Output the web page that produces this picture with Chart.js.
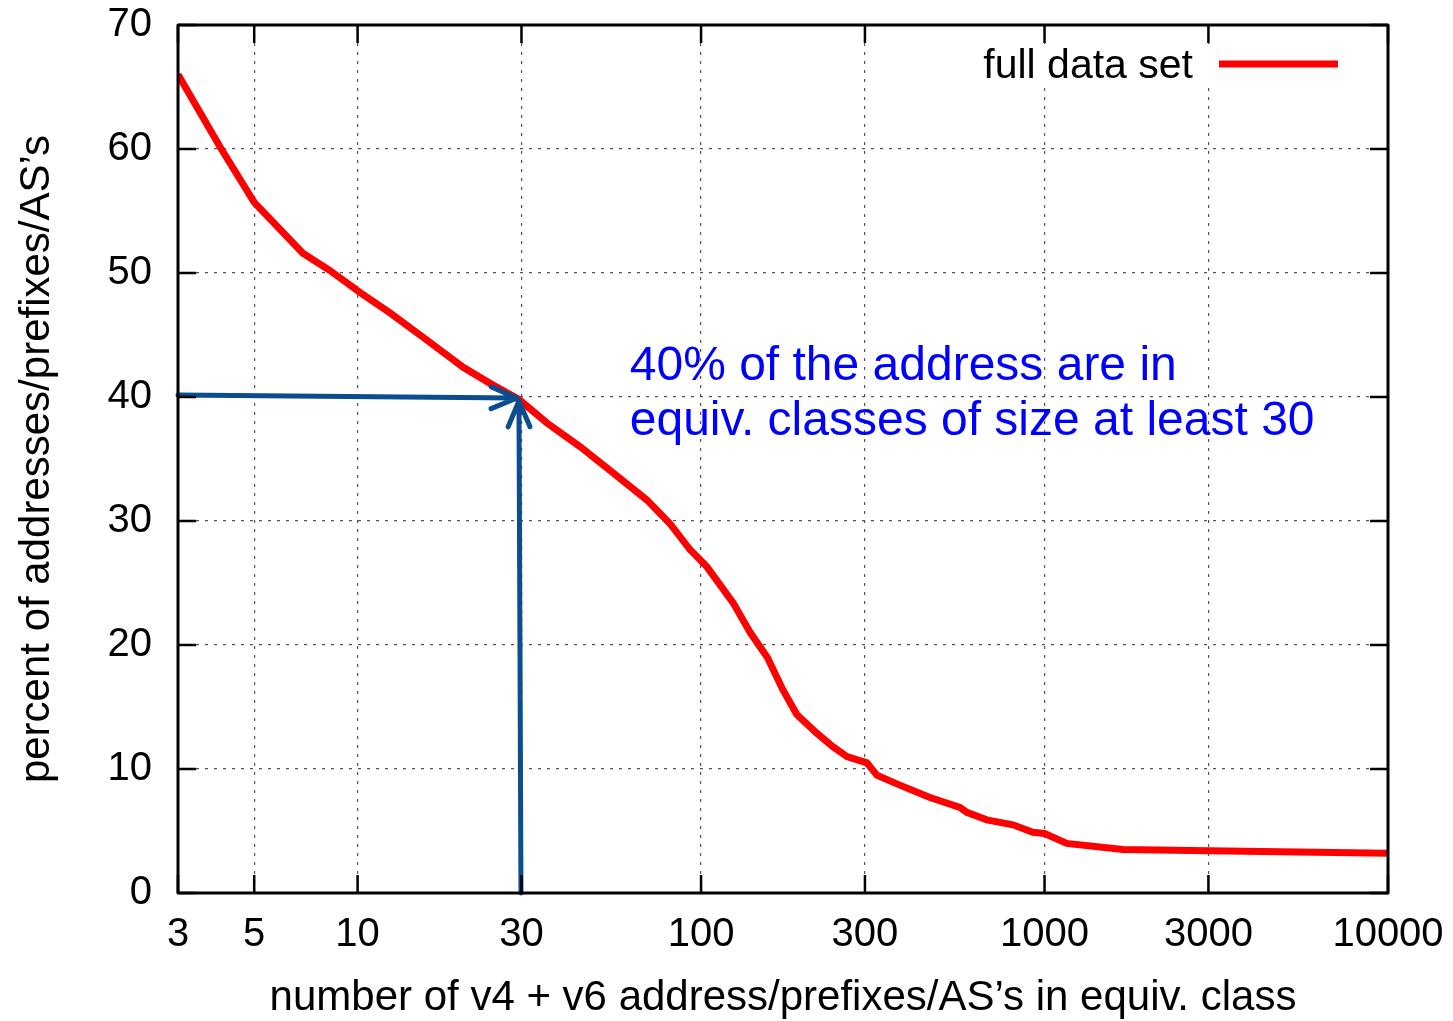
<!DOCTYPE html>
<html>
<head>
<meta charset="utf-8">
<script src="https://cdn.jsdelivr.net/npm/chart.js@4.4.0/dist/chart.umd.min.js"></script>
<style>
    html, body { margin: 0; padding: 0; background: #fff; }
</style>
</head>
<body>
<canvas id="myChart" width="1453" height="1021"></canvas>
<script>
// values
const classSize = [3, 3.97, 5, 6.93, 8.31, 10.2, 12.4, 15.9, 20.3, 24.3, 29.5, 35.6, 44.4, 55.4, 69.5,
    81.1, 92.8, 104, 124, 139, 156, 173, 190, 217, 242, 266, 304, 325, 379, 464, 567, 594, 679, 809, 925,
    1000, 1161, 1690, 3000, 10000];
const percent = [66.0, 60.2, 55.7, 51.6, 50.2, 48.4, 46.8, 44.6, 42.4, 41.1, 39.8, 37.9, 36.0, 33.9, 31.7,
    29.8, 27.7, 26.3, 23.4, 21.0, 19.0, 16.4, 14.4, 12.9, 11.8, 11.0, 10.5, 9.5, 8.7, 7.7, 6.9, 6.5, 5.9, 5.5, 4.9,
    4.8, 4.0, 3.5, 3.4, 3.2];

const xTicks = [3, 5, 10, 30, 100, 300, 1000, 3000, 10000];
const yTicks = [0, 10, 20, 30, 40, 50, 60, 70];

const seriesLabel = 'full data set';
const noteLines = ['40% of the address are in', 'equiv. classes of size at least 30'];
const markSize = 29.5;
const markPercent = 40;

const FONT = '"Liberation Sans", Arial, Helvetica, sans-serif';

function arrow(ctx, x0, y0, x1, y1) {
    const ang = Math.atan2(y1 - y0, x1 - x0);
    const len = 28, spread = 0.4;
    ctx.beginPath();
    ctx.moveTo(x0, y0);
    ctx.lineTo(x1, y1);
    ctx.moveTo(x1 - len * Math.cos(ang - spread), y1 - len * Math.sin(ang - spread));
    ctx.lineTo(x1, y1);
    ctx.lineTo(x1 - len * Math.cos(ang + spread), y1 - len * Math.sin(ang + spread));
    ctx.stroke();
}

const decor = {
    id: 'decor',
    afterDatasetsDraw(chart) {
        const ctx = chart.ctx;
        const a = chart.chartArea;
        const x = chart.scales.x, y = chart.scales.y;
        ctx.save();

        // legend (gnuplot style, key inside top right)
        ctx.fillStyle = '#fff';
        ctx.fillRect(968, a.top + 19, 380, 42);
        ctx.fillStyle = '#000';
        ctx.font = '41px ' + FONT;
        ctx.textAlign = 'right';
        ctx.textBaseline = 'alphabetic';
        ctx.fillText(seriesLabel, 1193, 78);
        ctx.strokeStyle = '#ff0000';
        ctx.lineWidth = 7;
        ctx.beginPath();
        ctx.moveTo(1219, 64);
        ctx.lineTo(1338, 64);
        ctx.stroke();

        // note
        ctx.fillStyle = '#0000ff';
        ctx.font = '48px ' + FONT;
        ctx.textAlign = 'left';
        const nx = x.getPixelForValue(62);
        ctx.fillText(noteLines[0], nx, y.getPixelForValue(41.4));
        ctx.fillText(noteLines[1], nx, y.getPixelForValue(36.9));

        // arrows
        ctx.strokeStyle = '#0b4d8f';
        ctx.lineWidth = 5;
        ctx.lineCap = 'round';
        ctx.lineJoin = 'round';
        const mx = x.getPixelForValue(markSize);
        const my = y.getPixelForValue(markPercent);
        arrow(ctx, x.getPixelForValue(3), my - 2, mx - 2, my + 1);
        arrow(ctx, mx + 2, y.getPixelForValue(0), mx, my + 4);

        // frame
        ctx.lineCap = 'butt';
        ctx.strokeStyle = '#000';
        ctx.lineWidth = 3;
        ctx.strokeRect(a.left, a.top, a.right - a.left, a.bottom - a.top);

        // inward ticks on all four sides
        ctx.lineWidth = 2.5;
        ctx.beginPath();
        xTicks.forEach(v => {
            const px = x.getPixelForValue(v);
            ctx.moveTo(px, a.bottom); ctx.lineTo(px, a.bottom - 18);
            ctx.moveTo(px, a.top); ctx.lineTo(px, a.top + 18);
        });
        yTicks.forEach(v => {
            const py = y.getPixelForValue(v);
            ctx.moveTo(a.left, py); ctx.lineTo(a.left + 18, py);
            ctx.moveTo(a.right, py); ctx.lineTo(a.right - 18, py);
        });
        ctx.stroke();
        ctx.restore();
    }
};

const data = {
    datasets: [{
        label: seriesLabel,
        data: classSize.map((v, i) => ({ x: v, y: percent[i] })),
        borderColor: '#ff0000',
        borderWidth: 7,
        pointRadius: 0,
        tension: 0,
        fill: false,
    }]
};

const config = {
    type: 'line',
    data: data,
    options: {
        responsive: false,
        animation: false,
        devicePixelRatio: 1,
        layout: {
            padding: { top: 25, right: 65, left: 0, bottom: 0 }
        },
        plugins: {
            legend: { display: false },
            tooltip: { enabled: false }
        },
        scales: {
            x: {
                type: 'logarithmic',
                min: 3,
                max: 10000,
                afterBuildTicks: s => { s.ticks = xTicks.map(v => ({ value: v })); },
                afterFit: s => {
                    s.height = 128;
                    s.paddingLeft = 0;
                    s.paddingRight = 0;
                },
                ticks: {
                    autoSkip: false,
                    maxRotation: 0,
                    padding: 18,
                    color: '#000',
                    font: { family: FONT, size: 40 },
                    callback: v => String(v)
                },
                grid: { color: '#555', lineWidth: 1.2, drawTicks: false },
                border: { display: false, dash: [3, 6] },
                title: {
                    display: true,
                    text: 'number of v4 + v6 address/prefixes/AS’s in equiv. class',
                    color: '#000',
                    font: { family: FONT, size: 42 },
                    padding: { top: 0, bottom: -3 }
                }
            },
            y: {
                min: 0,
                max: 70,
                afterBuildTicks: s => { s.ticks = yTicks.map(v => ({ value: v })); },
                afterFit: s => {
                    s.width = 178;
                    s.paddingTop = 0;
                    s.paddingBottom = 0;
                },
                ticks: {
                    padding: 26,
                    color: '#000',
                    font: { family: FONT, size: 40 }
                },
                grid: { color: '#555', lineWidth: 1.2, drawTicks: false },
                border: { display: false, dash: [3, 6] },
                title: {
                    display: true,
                    text: 'percent of addresses/prefixes/AS’s',
                    color: '#000',
                    font: { family: FONT, size: 42 },
                    padding: { top: 12, bottom: 0 }
                }
            }
        }
    },
    plugins: [decor]
};

var myChart = new Chart(
    document.getElementById('myChart'),
    config
);
</script>
</body>
</html>
